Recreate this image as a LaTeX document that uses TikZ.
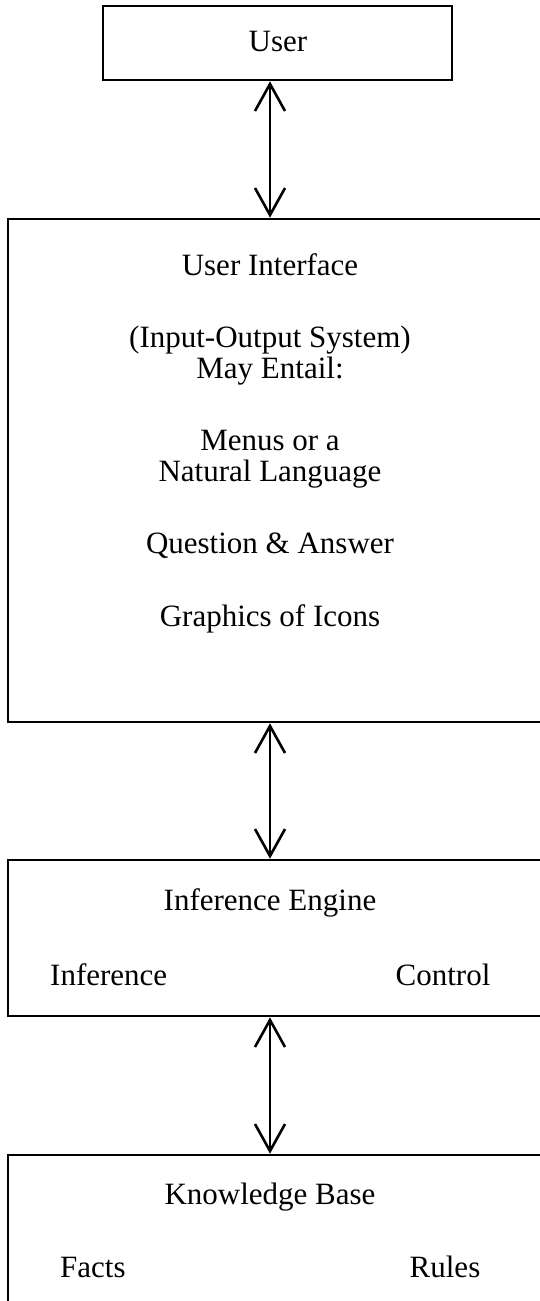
\documentclass[tikz,border=0pt]{standalone}
\usepackage{fontspec}
\setmainfont{Liberation Serif}
\usetikzlibrary{arrows.meta}
\begin{document}
\begin{tikzpicture}[x=1pt,y=-1pt,
  box/.style={draw, line width=2.6pt, inner sep=0pt},
  lbl/.style={anchor=base, inner sep=0pt, font=\fontsize{31}{36}\selectfont},
  lbll/.style={anchor=base west, inner sep=0pt, font=\fontsize{31}{36}\selectfont},
  barb/.tip={Straight Barb[length=27pt,width=30pt,line width=2.6pt]},
  link/.style={line width=2.6pt, barb-barb}]
\useasboundingbox (0,0) rectangle (540,1301);
\clip (0,0) rectangle (540,1301);
% boxes
\node[box, minimum width=349pt, minimum height=74pt] (user) at (277.5,43) {};
\node[box, minimum width=572pt, minimum height=503pt] (ui) at (294,470.5) {};
\node[box, minimum width=572pt, minimum height=156pt] (ie) at (294,938) {};
\node[box, minimum width=572pt, minimum height=300pt] (kb) at (294,1305) {};
% texts
\node[lbl] (tuser) at (278,51) {User};
\node[lbl] (tui) at (270,275) {User Interface};
\node[lbl] (tio) at (270,347) {(Input-Output System)};
\node[lbl] (tmay) at (270,378) {May Entail:};
\node[lbl] (tmenu) at (270,450) {Menus or a};
\node[lbl] (tnat) at (270,481) {Natural Language};
\node[lbl] (tqa) at (270,553) {Question \& Answer};
\node[lbl] (tgr) at (270,626) {Graphics of Icons};
\node[lbl] (tie) at (270,910) {Inference Engine};
\node[lbll] (tinf) at (50,985) {Inference};
\node[lbl] (tctl) at (443,985) {Control};
\node[lbl] (tkb) at (270,1204) {Knowledge Base};
\node[lbll] (tfacts) at (60,1277) {Facts};
\node[lbl] (trules) at (445,1277) {Rules};
% connectors
\coordinate (axis) at (270,0);
\draw[link] (user.south -| axis) -- (ui.north -| axis);
\draw[link] (ui.south -| axis) -- (ie.north -| axis);
\draw[link] (ie.south -| axis) -- (kb.north -| axis);
\end{tikzpicture}
\end{document}
